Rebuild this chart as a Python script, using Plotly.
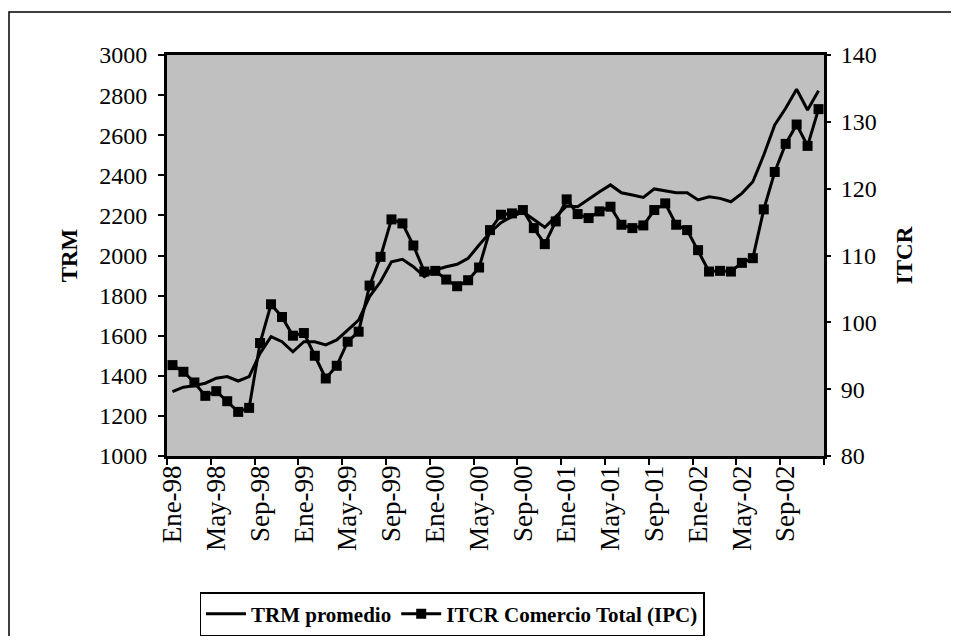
import plotly.graph_objects as go

months_es = ["Ene", "Feb", "Mar", "Abr", "May", "Jun", "Jul", "Ago", "Sep", "Oct", "Nov", "Dic"]
years = ["98", "99", "00", "01", "02"]
categories = [f"{m}-{y}" for y in years for m in months_es]

trm_promedio = [1321, 1343, 1351, 1363, 1388, 1396, 1374, 1396, 1512, 1595, 1570, 1520,
                1570, 1570, 1554, 1579, 1628, 1678, 1795, 1869, 1969, 1981, 1944, 1894,
                1928, 1944, 1956, 1986, 2052, 2115, 2164, 2194, 2218, 2181, 2141, 2194,
                2247, 2243, 2282, 2318, 2352, 2313, 2302, 2290, 2332, 2322, 2313, 2313,
                2277, 2293, 2285, 2268, 2310, 2368, 2501, 2651, 2734, 2829, 2726, 2822]

itcr_total = [93.6, 92.6, 91.0, 89.0, 89.7, 88.2, 86.6, 87.2, 96.9, 102.7, 100.8, 98.0,
              98.4, 95.0, 91.6, 93.5, 97.1, 98.6, 105.5, 109.8, 115.4, 114.8, 111.5, 107.6,
              107.7, 106.4, 105.4, 106.3, 108.2, 113.8, 116.1, 116.3, 116.8, 114.1, 111.7, 115.1,
              118.4, 116.2, 115.6, 116.6, 117.3, 114.6, 114.1, 114.5, 116.8, 117.8, 114.6, 113.8,
              110.8, 107.6, 107.7, 107.6, 108.9, 109.6, 116.9, 122.5, 126.7, 129.6, 126.4, 131.9]

label_idx = list(range(0, len(categories), 4))
tick_labels = [categories[i] for i in label_idx]
boundary_ticks = [i - 0.5 for i in range(0, len(categories) + 1, 4)]

x = list(range(len(categories)))
FONT = "Liberation Serif"

fig = go.Figure()
fig.add_trace(go.Scatter(
    x=x, y=trm_promedio, name="TRM promedio", mode="lines",
    line=dict(color="black", width=3), xaxis="x", yaxis="y"))
fig.add_trace(go.Scatter(
    x=x, y=itcr_total, name="ITCR Comercio Total (IPC)", mode="lines+markers",
    line=dict(color="black", width=3),
    marker=dict(symbol="square", size=10, color="black"),
    xaxis="x", yaxis="y2"))
fig.add_trace(go.Scatter(x=[x[0]], y=[trm_promedio[0]], xaxis="x2", yaxis="y",
                         mode="markers", marker=dict(opacity=0), showlegend=False,
                         hoverinfo="skip"))

# page body margin of 8px compensated; keep figure inside the window (no scrollbars)
OFF = 8
W, H = 959 - 2 * OFF, 644 - 2 * OFF
PL, PR, PT, PB = 167, 824, 55, 456  # plot area in window pixels
l, t = PL - OFF, PT - OFF
r, b = (OFF + W) - PR, (OFF + H) - PB


def px(xp):
    return (xp - PL) / (PR - PL)


def py(yp):
    return (PB - yp) / (PB - PT)


xr = [-0.5, len(categories) - 0.5]
fig.update_layout(
    width=W, height=H,
    margin=dict(l=l, r=r, t=t, b=b, autoexpand=False),
    paper_bgcolor="white", plot_bgcolor="#C0C0C0",
    font=dict(family=FONT, color="black", size=24),
    showlegend=True,
    legend=dict(orientation="h", x=px(452), y=py(592), xanchor="center", yanchor="top",
                bordercolor="black", borderwidth=1.5, bgcolor="white",
                font=dict(family=FONT, size=21, color="black", weight="bold"),
                itemwidth=40, tracegroupgap=0),
    xaxis=dict(range=xr, tickmode="array", tickvals=boundary_ticks, showticklabels=False,
               ticks="outside", ticklen=6, tickwidth=2, tickcolor="black",
               showline=True, linecolor="black", linewidth=3, mirror=True,
               showgrid=False, zeroline=False),
    xaxis2=dict(range=xr, overlaying="x", side="bottom", tickmode="array",
                tickvals=label_idx, ticktext=tick_labels, ticks="", tickangle=-90,
                tickfont=dict(family=FONT, size=27, color="black"),
                showline=False, showgrid=False, zeroline=False, ticklabelstandoff=3),
    yaxis=dict(range=[1000, 3000], dtick=200, tickmode="linear",
               ticks="outside", ticklen=6, tickwidth=2, tickcolor="black",
               tickfont=dict(family=FONT, size=24, color="black"), ticklabelstandoff=6,
               showline=True, linecolor="black", linewidth=3, mirror=True,
               showgrid=False, zeroline=False,
               title=dict(text="<b>TRM</b>", font=dict(family=FONT, size=23, color="black"), standoff=16)),
    yaxis2=dict(range=[80, 140], dtick=10, tickmode="linear", overlaying="y", side="right",
                ticks="outside", ticklen=6, tickwidth=2, tickcolor="black",
                tickfont=dict(family=FONT, size=24, color="black"), ticklabelstandoff=5,
                showline=False, showgrid=False, zeroline=False,
                title=dict(text="<b>ITCR</b>", font=dict(family=FONT, size=23, color="black"), standoff=20)),
    shapes=[dict(type="rect", xref="paper", yref="paper",
                 x0=px(9), x1=px(980), y0=py(680), y1=py(12),
                 line=dict(color="black", width=1.5), fillcolor="rgba(0,0,0,0)", layer="below")],
)

fig.write_html("out.html")
